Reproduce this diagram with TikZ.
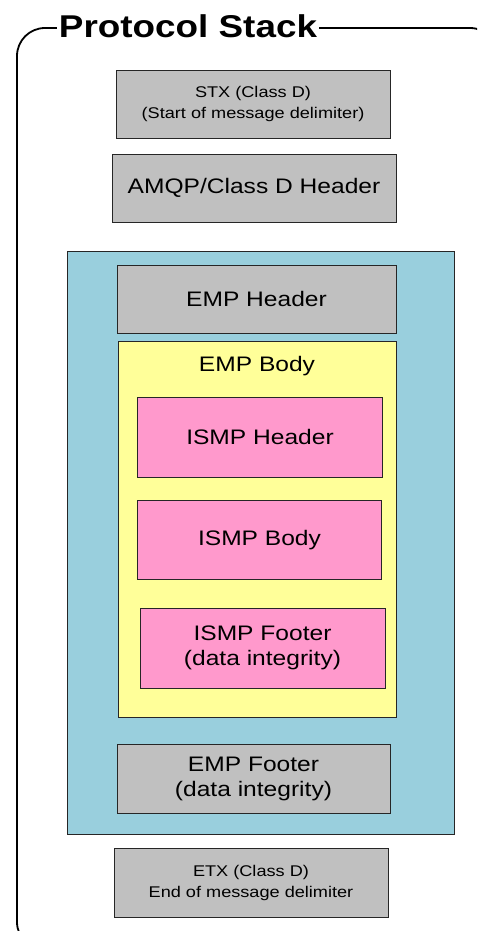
\documentclass[tikz,border=0pt]{standalone}
\usepackage{fontspec}
\setmainfont{Liberation Sans}[FakeStretch=1.17]
\definecolor{boxgray}{RGB}{192,192,192}
\definecolor{envteal}{RGB}{153,207,221}
\definecolor{bodyyellow}{RGB}{255,255,153}
\definecolor{ismppink}{RGB}{255,153,204}
\tikzset{
  layer/.style={draw=black!85, line width=0.8pt, rectangle, inner sep=0pt,
    align=center, font=\fontsize{21}{25}\selectfont},
  graylayer/.style={layer, fill=boxgray},
  pinklayer/.style={layer, fill=ismppink},
  smalltext/.style={font=\fontsize{15.5}{21}\selectfont},
  frame/.style={draw=black, line width=1.8pt, rounded corners=28pt}
}
\begin{document}
\begin{tikzpicture}[x=1pt, y=-1pt]
  \useasboundingbox (0,0) rectangle (477,931);
  \clip (0,0) rectangle (477,931);
  % outer frame with its title sitting on the top rule
  \draw[frame] (17,28) rectangle (498,950);
  \node[fill=white, inner xsep=2pt, inner ysep=0pt, font=\bfseries\fontsize{31.5}{36}\selectfont]
    (title) at (188,26) {Protocol Stack};
  % start delimiter and header
  \node[graylayer, smalltext, minimum width=274pt, minimum height=68pt] (stx) at (253,104)
    {STX (Class D)\\(Start of message delimiter)};
  \node[graylayer, minimum width=284pt, minimum height=68pt] (amqp) at (254,188)
    {AMQP/Class D Header};
  % EMP envelope
  \node[layer, fill=envteal, minimum width=387pt, minimum height=583pt] (emp) at (260.5,542.5) {};
  \node[graylayer, minimum width=279pt, minimum height=68pt] (emphead) at (256.5,299) {EMP Header};
  \node[layer, fill=bodyyellow, minimum width=278pt, minimum height=376pt] (empbody) at (257,529) {};
  \node[font=\fontsize{21}{25}\selectfont] (empbodytitle) at (257,366) {EMP Body};
  % ISMP layers inside the EMP body
  \node[pinklayer, minimum width=245pt, minimum height=80pt] (ismphead) at (260,437) {ISMP Header};
  \node[pinklayer, minimum width=244pt, minimum height=79pt] (ismpbody) at (259.5,540) {ISMP Body};
  \node[pinklayer, minimum width=245pt, minimum height=80pt] (ismpfoot) at (262.5,648)
    {ISMP Footer\\(data integrity)};
  \node[graylayer, minimum width=273pt, minimum height=69pt] (empfoot) at (253.5,778.5)
    {EMP Footer\\(data integrity)};
  % end delimiter
  \node[graylayer, smalltext, minimum width=274pt, minimum height=69pt] (etx) at (251,882.5)
    {ETX (Class D)\\End of message delimiter};
\end{tikzpicture}
\end{document}
